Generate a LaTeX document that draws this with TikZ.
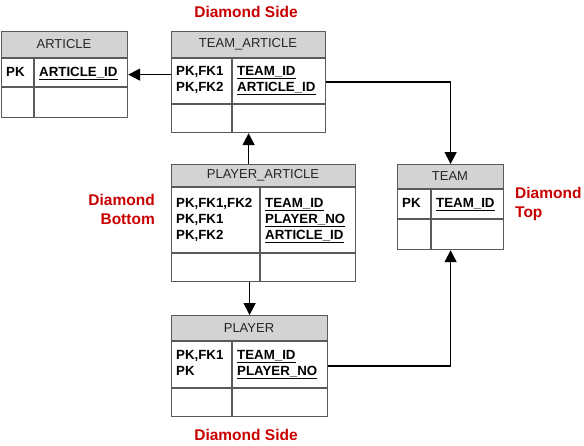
\documentclass[tikz,border=0pt]{standalone}
\usepackage{fontspec}
\setmainfont{Liberation Sans}
\usetikzlibrary{arrows.meta}
\definecolor{lbl}{RGB}{200,0,0}
\definecolor{edge}{RGB}{90,90,90}
\definecolor{head}{RGB}{211,211,211}
\tikzset{
  tbl/.style={draw=edge,line width=1.2pt,inner sep=0pt,anchor=north west},
  sep/.style={draw=edge,line width=1.1pt},
  ttl/.style={font=\fontsize{13}{14}\selectfont,text=black!85,inner sep=0pt},
  key/.style={font=\bfseries\fontsize{13.3}{16}\selectfont,align=left,anchor=north west,inner sep=0pt},
  lab/.style={font=\bfseries\fontsize{15.5}{19}\selectfont,text=lbl,inner sep=0pt},
  conn/.style={draw=black,line width=1.5pt,-{Triangle[length=12pt,width=12pt]}}
}
% name, x1, y1, x2, y2, header bottom, row bottom, divider x, title
\newcommand\erbox[9]{%
  \fill[head] (#2,#3) rectangle (#4,#6);
  \node[tbl,minimum width=#4pt-#2pt,minimum height=#5pt-#3pt] (#1) at (#2,#3) {};
  \draw[sep] (#2,#6) -- (#4,#6);
  \draw[sep] (#2,#7) -- (#4,#7);
  \draw[sep] (#8,#6) -- (#8,#5);
  \node[ttl] (#1-t) at ({(#2+#4)/2},{(#3+#6)/2}) {#9};
}
\begin{document}
\begin{tikzpicture}[x=1pt,y=-1pt]
\useasboundingbox (0,0) rectangle (584,445);
\erbox{art}{1}{31}{127}{117}{58}{87}{34}{ARTICLE}
\erbox{ta}{171}{31}{325}{132}{58}{104}{232}{TEAM\_ARTICLE}
\erbox{pa}{171}{164}{355}{281}{187}{253}{260}{PLAYER\_ARTICLE}
\erbox{pl}{171}{315}{327}{416}{341}{388}{232}{PLAYER}
\erbox{team}{397}{164}{503}{249}{189}{219}{431}{TEAM}

\node[key] (art-k) at (6,67) {PK};
\node[key] (art-n) at (39,67) {\underline{ARTICLE\_ID}};
\node[key] (ta-k) at (176,66) {PK,FK1\\PK,FK2};
\node[key] (ta-n) at (237,66) {\underline{TEAM\_ID}\\\underline{ARTICLE\_ID}};
\node[key] (pa-k) at (176,198) {PK,FK1,FK2\\PK,FK1\\PK,FK2};
\node[key] (pa-n) at (265,198) {\underline{TEAM\_ID}\\\underline{PLAYER\_NO}\\\underline{ARTICLE\_ID}};
\node[key] (pl-k) at (176,350) {PK,FK1\\PK};
\node[key] (pl-n) at (237,350) {\underline{TEAM\_ID}\\\underline{PLAYER\_NO}};
\node[key] (team-k) at (402,198) {PK};
\node[key] (team-n) at (436,198) {\underline{TEAM\_ID}};

\node[lab] (l1) at (246,12) {Diamond Side};
\node[lab,align=right,anchor=east] (l2) at (155,209) {Diamond\\Bottom};
\node[lab,align=left,anchor=west] (l3) at (515,204) {Diamond\\Top};
\node[lab] (l4) at (246,435) {Diamond Side};

\draw[conn] (ta.west |- art.east) -- (art.east);
\draw[conn] (ta.east) -| (team.north);
\draw[conn] (pa.north -| ta.south) -- (ta.south);
\draw[conn] (pa.south -| pl.north) -- (pl.north);
\draw[conn] (pl.east) -| (team.south);
\end{tikzpicture}
\end{document}
